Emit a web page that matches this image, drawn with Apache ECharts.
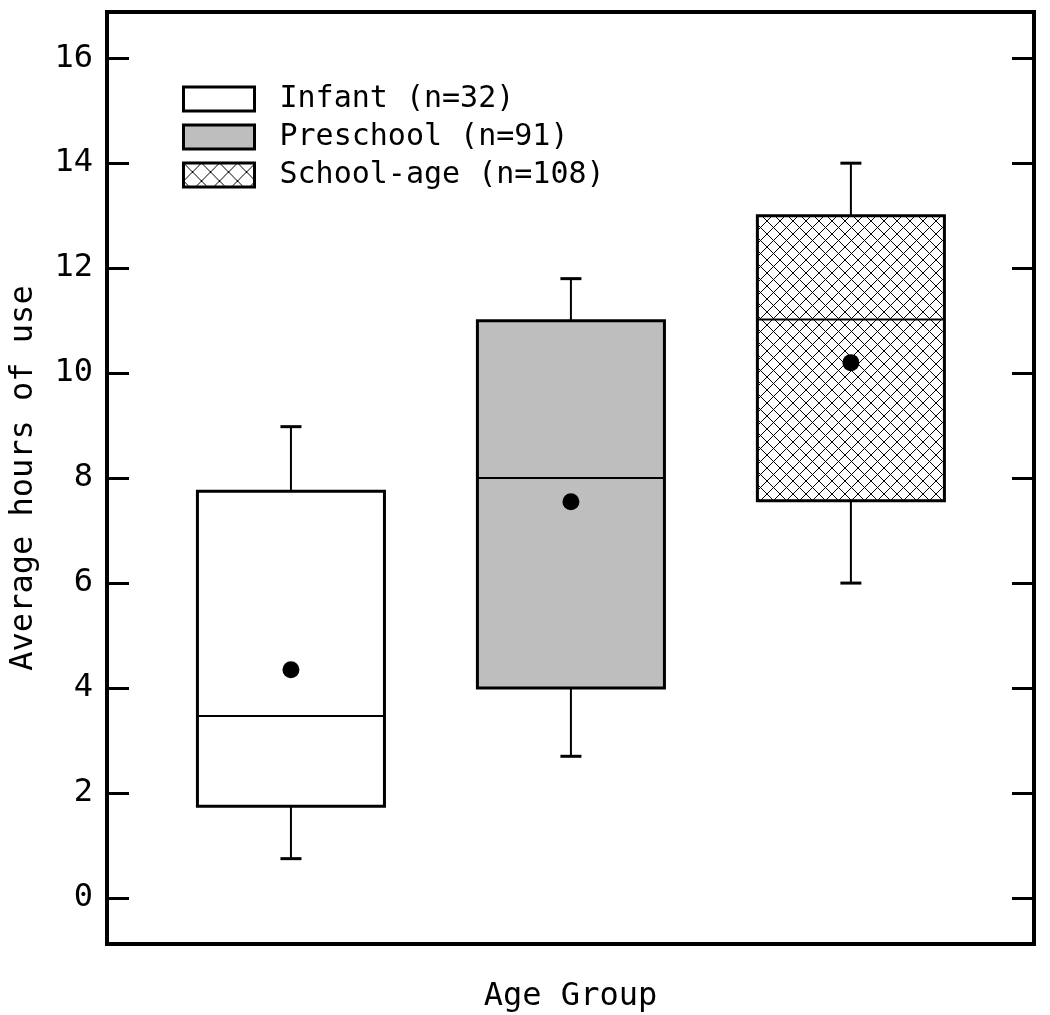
<!DOCTYPE html>
<html><head><meta charset="utf-8">
<script src="https://cdn.jsdelivr.net/npm/echarts@6/dist/echarts.min.js"></script>
<style>html,body{margin:0;padding:0;background:#fff}#c{width:1050px;height:1015px}</style>
</head><body><div id="c"></div>
<script>
// ---- data ----
const groups = ['Infant (n=32)', 'Preschool (n=91)', 'School-age (n=108)'];
const positions = [1, 2, 3];
const whiskerLow = [0.75, 2.7, 6.0];
const q1 = [1.75, 4.0, 7.57];
const median = [3.47, 8.0, 11.02];
const q3 = [7.75, 11.0, 13.0];
const whiskerHigh = [8.98, 11.8, 14.0];
const means = [4.35, 7.55, 10.2];
const yTicks = [0, 2, 4, 6, 8, 10, 12, 14, 16];

// ---- styles ----
const FONT = '"DejaVu Sans Mono", monospace';
const BOX_W = 0.668, CAP_W = 0.075;
function hatch(s) {
  const c = document.createElement('canvas');
  c.width = s; c.height = s;
  const g = c.getContext('2d');
  g.fillStyle = '#fff'; g.fillRect(0, 0, s, s);
  g.strokeStyle = '#000'; g.lineWidth = 1;
  g.beginPath(); g.moveTo(0, 0); g.lineTo(s, s); g.moveTo(s, 0); g.lineTo(0, s); g.stroke();
  return c;
}
const fills = ['#ffffff', '#bebebe', { image: hatch(13), repeat: 'repeat' }];
const legendFills = ['#ffffff', '#bebebe', { image: hatch(18), repeat: 'repeat' }];

function makeRender(fill) {
  return function (params, api) {
    const x = api.value(0);
    const pLow = api.coord([x, api.value(1)]);
    const pQ1 = api.coord([x, api.value(2)]);
    const pMed = api.coord([x, api.value(3)]);
    const pQ3 = api.coord([x, api.value(4)]);
    const pHigh = api.coord([x, api.value(5)]);
    const hw = api.size([BOX_W, 0])[0] / 2;
    const cw = api.size([CAP_W, 0])[0] / 2;
    const cx = pQ1[0];
    const ln = { stroke: '#000', lineWidth: 2 };
    return {
      type: 'group', children: [
        { type: 'line', shape: { x1: cx, y1: pHigh[1], x2: cx, y2: pQ3[1] }, style: ln },
        { type: 'line', shape: { x1: cx - cw, y1: pHigh[1], x2: cx + cw, y2: pHigh[1] }, style: { stroke: '#000', lineWidth: 3 } },
        { type: 'line', shape: { x1: cx, y1: pLow[1], x2: cx, y2: pQ1[1] }, style: ln },
        { type: 'line', shape: { x1: cx - cw, y1: pLow[1], x2: cx + cw, y2: pLow[1] }, style: { stroke: '#000', lineWidth: 3 } },
        { type: 'rect', shape: { x: cx - hw, y: pQ3[1], width: 2 * hw, height: pQ1[1] - pQ3[1] }, style: { fill: fill, stroke: '#000', lineWidth: 3 } },
        { type: 'line', shape: { x1: cx - hw, y1: pMed[1], x2: cx + hw, y2: pMed[1] }, style: ln }
      ]
    };
  };
}

const series = groups.map((name, i) => ({
  name: name,
  type: 'custom',
  renderItem: makeRender(fills[i]),
  itemStyle: { color: fills[i], borderColor: '#000', borderWidth: 3 },
  encode: { x: 0, y: [1, 2, 3, 4, 5] },
  data: [[positions[i], whiskerLow[i], q1[i], median[i], q3[i], whiskerHigh[i]]],
  z: 2
}));
series.push({
  type: 'scatter',
  symbol: 'circle',
  symbolSize: 17,
  itemStyle: { color: '#000', opacity: 1 },
  data: positions.map((p, i) => [p, means[i]]),
  z: 5
});

const chart = echarts.init(document.getElementById('c'), null, { renderer: 'canvas' });
chart.setOption({
  animation: false,
  backgroundColor: '#fff',
  grid: { left: 107, right: 16, top: 12, bottom: 71, show: true, borderWidth: 4, borderColor: '#000', backgroundColor: 'transparent', outerBoundsMode: 'none', containLabel: false },
  legend: {
    orient: 'vertical', left: 182, top: 84, padding: 0, itemWidth: 71, itemHeight: 24, itemGap: 8,
    icon: 'rect', selectedMode: false,
    itemStyle: { borderColor: '#000', borderWidth: 3 },
    textStyle: { fontFamily: FONT, fontSize: 30, color: '#000', padding: [0, 0, 0, 20] },
    data: groups.map((g, i) => ({ name: g, itemStyle: { color: legendFills[i], borderColor: '#000', borderWidth: 3 } }))
  },
  xAxis: {
    type: 'value', min: 0.343, max: 3.654,
    axisLine: { show: false }, axisTick: { show: false }, axisLabel: { show: false }, splitLine: { show: false },
    name: 'Age Group', nameLocation: 'middle', nameGap: 37,
    nameTextStyle: { fontFamily: FONT, fontSize: 32, color: '#000' }
  },
  yAxis: [{
    type: 'value', min: -0.876, max: 16.88, position: 'left',
    axisLine: { show: false }, splitLine: { show: false },
    axisTick: { show: true, inside: true, length: 22, lineStyle: { width: 3, color: '#000' }, customValues: yTicks },
    axisLabel: { show: true, customValues: yTicks, fontFamily: FONT, fontSize: 32, color: '#000', margin: 14 },
    name: 'Average hours of use', nameLocation: 'middle', nameGap: 67, nameRotate: 90,
    nameTextStyle: { fontFamily: FONT, fontSize: 32, color: '#000' }
  }, {
    type: 'value', min: -0.876, max: 16.88, position: 'right',
    axisLine: { show: false }, splitLine: { show: false },
    axisTick: { show: true, inside: true, length: 22, lineStyle: { width: 3, color: '#000' }, customValues: yTicks },
    axisLabel: { show: false }
  }],
  series: series
});
</script></body></html>
